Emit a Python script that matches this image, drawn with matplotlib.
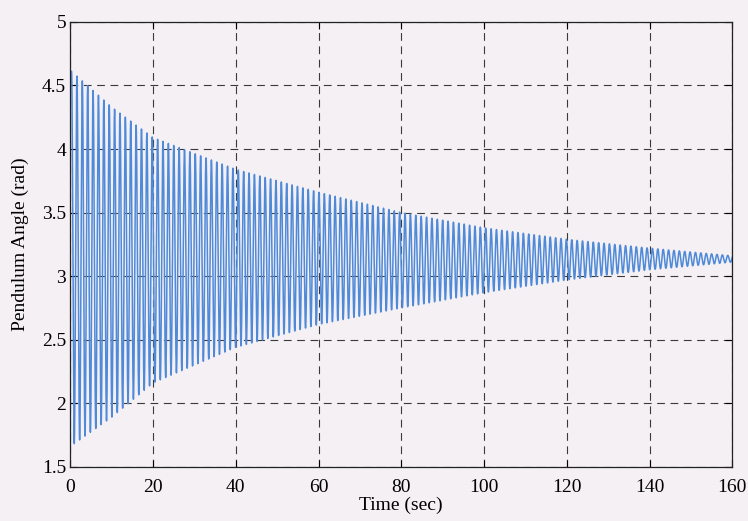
import numpy as np
import matplotlib
matplotlib.use("Agg")
import matplotlib.pyplot as plt

# envelope of the swing
env_t = [0, 10, 20, 40, 60, 80, 100, 120, 140, 160]
env_upper = [4.62, 4.33, 4.09, 3.84, 3.66, 3.50, 3.38, 3.29, 3.22, 3.16]
env_lower = [1.66, 1.89, 2.16, 2.44, 2.62, 2.75, 2.87, 2.97, 3.05, 3.11]
period = 1.3       # sec, counted from the peaks
first_peak = 0.3

xticks = [0, 20, 40, 60, 80, 100, 120, 140, 160]
yticks = [1.5, 2, 2.5, 3, 3.5, 4, 4.5, 5]

# turning points alternate top / bottom every half period
tp = np.arange(first_peak, 160 + period, period / 2)
top = np.interp(tp, env_t, env_upper)
bot = np.interp(tp, env_t, env_lower)
vp = np.where(np.arange(len(tp)) % 2 == 0, top, bot)

# smooth swing between the turning points
t = np.linspace(0, 160, 40000)
idx = np.clip(np.searchsorted(tp, t) - 1, 0, len(tp) - 2)
frac = np.clip((t - tp[idx]) / (tp[idx + 1] - tp[idx]), 0, 1)
a, b = vp[idx], vp[idx + 1]
y = (a + b) / 2 + (a - b) / 2 * np.cos(np.pi * frac)
y[t < first_peak] = vp[0]

plt.rcParams['font.family'] = ['Liberation Serif', 'DejaVu Serif']
bg = '#f4f0f4'
fig = plt.figure(figsize=(7.48, 5.21), dpi=100, facecolor=bg)
ax = fig.add_axes([0.094, 0.104, 0.885, 0.854], facecolor=bg)

ax.plot(t, y, color='#4f8ad9', lw=1.1)

ax.set_xlim(0, 160)
ax.set_ylim(1.5, 5)
ax.set_xticks(xticks)
ax.set_yticks(yticks)
ax.set_yticklabels(['1.5', '2', '2.5', '3', '3.5', '4', '4.5', '5'])
ax.tick_params(direction='in', length=5, labelsize=14, top=True, right=True, pad=3)
ax.tick_params(axis='x', pad=9)
ax.grid(True, color='#3a3a3a', linestyle=(0, (7, 5)), linewidth=0.8)
for s in ax.spines.values():
    s.set_color('#222222')
    s.set_linewidth(0.9)

ax.set_xlabel('Time (sec)', fontsize=14, labelpad=0)
ax.set_ylabel('Pendulum Angle (rad)', fontsize=14, labelpad=9)

fig.savefig('out.png', dpi=100, facecolor=bg)
